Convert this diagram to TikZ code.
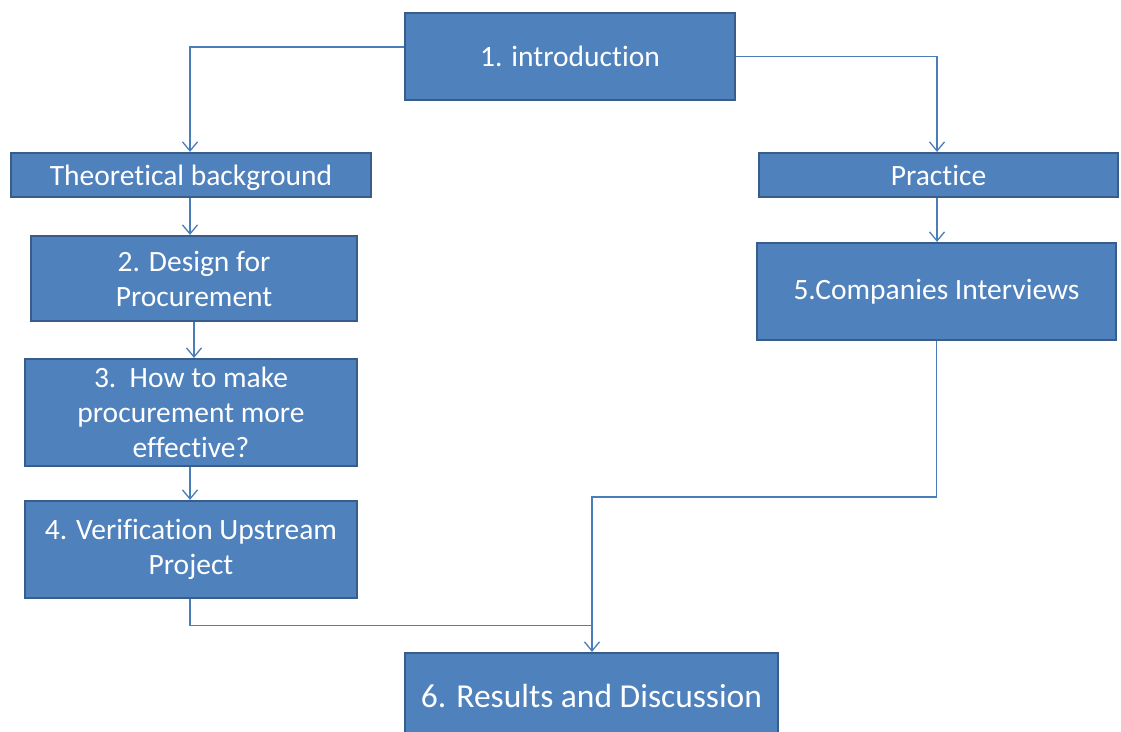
\documentclass[tikz,border=0pt]{standalone}
\usepackage{fontspec}
\setmainfont{Carlito}[Ligatures=NoCommon]
\usetikzlibrary{arrows.meta}
\definecolor{boxfill}{HTML}{4F81BD}
\definecolor{boxdraw}{HTML}{385D8A}
\definecolor{linecol}{HTML}{4A7EBB}
\newcommand{\lowtext}[1]{\raisebox{-10pt}[0pt][0pt]{#1}}
\tikzset{
  box/.style={rectangle, fill=boxfill, draw=boxdraw, line width=2.2pt, text=white,
    align=center, inner sep=0pt, font=\fontsize{29.5}{35}\selectfont},
  conn/.style={draw=linecol, line width=1.3pt},
  arr/.style={conn, -{Straight Barb[length=9pt,width=15pt,line width=1.3pt]}}
}
\begin{document}
\begin{tikzpicture}[x=1pt,y=-1pt]
\clip (0,0) rectangle (1121,731);
\fill[white] (0,0) rectangle (1121,731);
\node[box, minimum width=330, minimum height=87] (intro) at (570,56.5) {1. introduction};
\node[box, minimum width=360, minimum height=44] (theo) at (191,175) {\lowtext{Theoretical background}};
\node[box, minimum width=359, minimum height=44] (prac) at (938.5,175) {\lowtext{Practice}};
\node[box, minimum width=326, minimum height=85] (des) at (194,278.5) {2. Design for\\Procurement};
\node[box, minimum width=332, minimum height=107] (how) at (191,412.5) {3.\ \ How to make\\procurement more\\effective?};
\node[box, minimum width=332, minimum height=97] (ver) at (191,549.5) {4. Verification Upstream\\Project};
\node[box, minimum width=359, minimum height=97] (comp) at (936.5,291.5) {5.Companies Interviews};
\node[box, minimum width=373, minimum height=86, font=\fontsize{33.5}{40}\selectfont] (res) at (591.5,696) {6. Results and Discussion};
\coordinate (j1) at (592,497);
\coordinate (j2) at (592,625.5);
\draw[arr] ([yshift=9.5pt]intro.west) -| ([xshift=-1pt]theo.north);
\draw[arr] (intro.east) -| ([xshift=-1.5pt]prac.north);
\draw[arr] ([xshift=-1pt]theo.south) -- ([xshift=-1pt]theo.south |- des.north);
\draw[arr] (des.south) -- (des.south |- how.north);
\draw[arr] ([xshift=-1pt]how.south) -- ([xshift=-1pt]how.south |- ver.north);
\draw[arr] ([xshift=-1.5pt]prac.south) -- ([xshift=-1.5pt]prac.south |- comp.north);
\draw[arr] (comp.south) |- (j1) -- (j1 |- res.north);
\draw[conn] ([xshift=-1pt]ver.south) |- (j2);
\end{tikzpicture}
\end{document}
